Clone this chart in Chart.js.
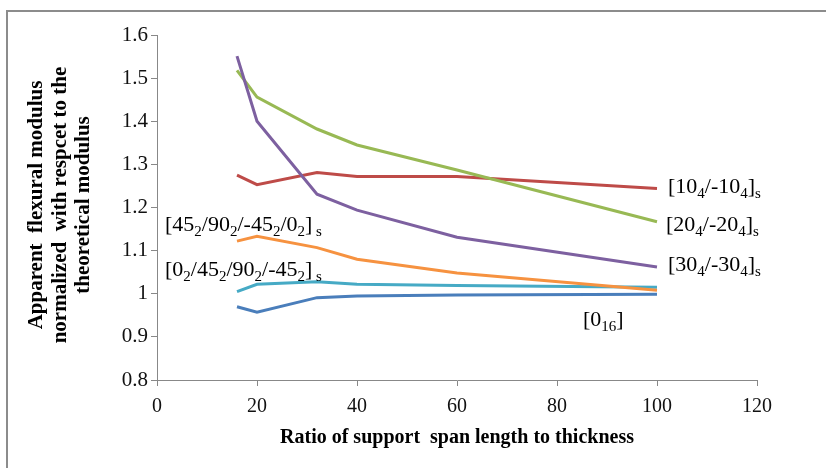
<!DOCTYPE html>
<html>
<head>
<meta charset="utf-8">
<script src="https://cdn.jsdelivr.net/npm/chart.js@4.4.1/dist/chart.umd.min.js"></script>
<style>
  html, body { margin: 0; padding: 0; background: #fff; }
  #wrap { position: relative; width: 826px; height: 468px; }
  #frame { position: absolute; left: 6px; top: 10px; right: 0; bottom: 0;
           border-left: 2px solid #8c8c8c; border-top: 2px solid #8c8c8c; }
  #modulus { position: absolute; left: 0; top: 0; }
</style>
</head>
<body>
<div id="wrap">
  <div id="frame"></div>
  <canvas id="modulus" width="826" height="468"></canvas>
</div>
<script>
// span-to-thickness ratios used in the tests
const spanRatio = [16, 20, 32, 40, 60, 100];

// normalized apparent flexural modulus per layup
const mod0_16 = [0.970, 0.957, 0.991, 0.995, 0.997, 0.999];
const mod10 = [1.275, 1.253, 1.281, 1.272, 1.272, 1.244];
const mod20 = [1.518, 1.456, 1.382, 1.345, 1.287, 1.167];
const mod30 = [1.551, 1.400, 1.231, 1.194, 1.131, 1.062];
const modQuasiA = [1.005, 1.022, 1.028, 1.022, 1.019, 1.015];
const modQuasiB = [1.122, 1.133, 1.107, 1.080, 1.048, 1.008];

const xTicks = [0, 20, 40, 60, 80, 100, 120];
const yTicks = [0.8, 0.9, 1, 1.1, 1.2, 1.3, 1.4, 1.5, 1.6];

const yTitle = ["Apparent  flexural modulus", "normalized  with respcet to the", "theoretical modulus"];
const xTitle = "Ratio of support  span length to thickness";

// series labels: [text, isSubscript] pieces, anchored in data units
const labels = [
  { x: 102.2, y: 1.248, parts: [["[10", 0], ["4", 1], ["/-10", 0], ["4", 1], ["]", 0], ["s", 1]] },
  { x: 101.8, y: 1.159, parts: [["[20", 0], ["4", 1], ["/-20", 0], ["4", 1], ["]", 0], ["s", 1]] },
  { x: 102.2, y: 1.067, parts: [["[30", 0], ["4", 1], ["/-30", 0], ["4", 1], ["]", 0], ["s", 1]] },
  { x: 85.2, y: 0.939, parts: [["[0", 0], ["16", 1], ["]", 0]] },
  { x: 1.6, y: 1.160, parts: [["[45", 0], ["2", 1], ["/90", 0], ["2", 1], ["/-45", 0], ["2", 1], ["/0", 0], ["2", 1], ["]", 0], [" s", 1]] },
  { x: 1.6, y: 1.055, parts: [["[0", 0], ["2", 1], ["/45", 0], ["2", 1], ["/90", 0], ["2", 1], ["/-45", 0], ["2", 1], ["]", 0], [" s", 1]] },
];

const series = [
  { name: "[0_16]", data: mod0_16, color: "#4a7ebb" },
  { name: "[10_4/-10_4]s", data: mod10, color: "#be4b48" },
  { name: "[20_4/-20_4]s", data: mod20, color: "#98b954" },
  { name: "[30_4/-30_4]s", data: mod30, color: "#7d60a0" },
  { name: "[0_2/45_2/90_2/-45_2]s", data: modQuasiA, color: "#46aac5" },
  { name: "[45_2/90_2/-45_2/0_2]s", data: modQuasiB, color: "#f69240" },
];

const SERIF = "'Liberation Serif', 'Times New Roman', serif";

const textPlugin = {
  id: "textPlugin",
  afterDraw(chart) {
    const ctx = chart.ctx;
    const xs = chart.scales.x, ys = chart.scales.y;
    ctx.save();
    ctx.fillStyle = "#000";

    // axis titles
    ctx.font = "bold 20px " + SERIF;
    ctx.textAlign = "center";
    ctx.textBaseline = "middle";
    ctx.fillText(xTitle, (chart.chartArea.left + chart.chartArea.right) / 2, 438);

    ctx.save();
    ctx.translate(0, 205);
    ctx.rotate(-Math.PI / 2);
    ctx.font = "bold 21px " + SERIF;
    const lineX = [37, 61, 84];
    yTitle.forEach((t, i) => ctx.fillText(t, 0, lineX[i]));
    ctx.restore();

    // series labels with subscripts
    ctx.textAlign = "left";
    labels.forEach(l => {
      let px = xs.getPixelForValue(l.x);
      const py = ys.getPixelForValue(l.y);
      l.parts.forEach(([t, sub]) => {
        ctx.font = (sub ? "15px " : "22px ") + SERIF;
        ctx.fillText(t, px, sub ? py + 7 : py);
        px += ctx.measureText(t).width;
      });
    });
    ctx.restore();
  }
};

new Chart(document.getElementById("modulus"), {
  type: "line",
  data: {
    datasets: series.map((s, i) => ({
      label: s.name,
      data: spanRatio.map((x, j) => ({ x: x, y: s.data[j] })),
      borderColor: s.color,
      backgroundColor: s.color,
      borderWidth: 3,
      pointRadius: 0,
      tension: 0,
      order: series.length - i,
    })),
  },
  options: {
    responsive: false,
    animation: false,
    layout: { padding: { top: 35, right: 69, left: 0, bottom: 0 } },
    plugins: { legend: { display: false }, tooltip: { enabled: false } },
    scales: {
      x: {
        type: "linear",
        min: 0, max: 120,
        afterBuildTicks: s => { s.ticks = xTicks.map(v => ({ value: v })); },
        afterFit: s => { s.height = 88; },
        grid: { drawOnChartArea: false, drawTicks: true, tickLength: 6, color: "#888" },
        border: { color: "#888", width: 1 },
        ticks: { font: { family: SERIF, size: 20 }, color: "#111", padding: 9, maxRotation: 0 },
      },
      y: {
        min: 0.8, max: 1.6,
        afterBuildTicks: s => { s.ticks = yTicks.map(v => ({ value: v })); },
        afterFit: s => { s.width = 157; },
        grid: { drawOnChartArea: false, drawTicks: true, tickLength: 6, color: "#888" },
        border: { color: "#888", width: 1 },
        ticks: {
          font: { family: SERIF, size: 21 }, color: "#111", padding: 3,
          callback: v => String(Number(v.toFixed(1))),
        },
      },
    },
  },
  plugins: [textPlugin],
});
</script>
</body>
</html>
